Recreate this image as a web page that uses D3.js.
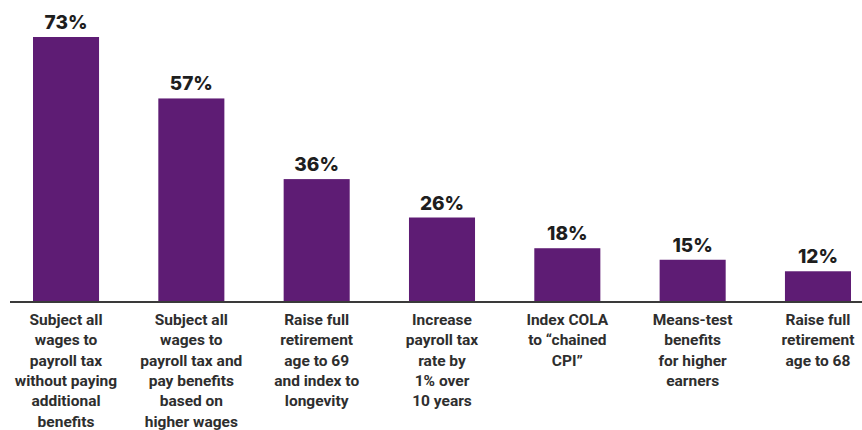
<!DOCTYPE html>
<html>
<head>
<meta charset="utf-8">
<script src="https://cdn.jsdelivr.net/npm/d3@7"></script>
<style>
  body { margin: 0; background: #fff; }
  svg { display: block; }
</style>
</head>
<body>
<svg width="862" height="430"></svg>
<script>
// chart data
const categories = [
  ['Subject all', 'wages to', 'payroll tax', 'without paying', 'additional', 'benefits'],
  ['Subject all', 'wages to', 'payroll tax and', 'pay benefits', 'based on', 'higher wages'],
  ['Raise full', 'retirement', 'age to 69', 'and index to', 'longevity'],
  ['Increase', 'payroll tax', 'rate by', '1% over', '10 years'],
  ['Index COLA', 'to \u201cchained', 'CPI\u201d'],
  ['Means-test', 'benefits', 'for higher', 'earners'],
  ['Raise full', 'retirement', 'age to 68']
];
const values = [73, 57, 36, 26, 18, 15, 12];
const valueLabels = ['73%', '57%', '36%', '26%', '18%', '15%', '12%'];

const svg = d3.select('svg');
const baseline = 302;

const xScale = d3.scaleBand()
  .domain(d3.range(values.length))
  .range([33, 851])
  .paddingInner(0.473)
  .paddingOuter(0);

// bars start a little above zero where the baseline cuts them
const yScale = d3.scaleLinear().domain([4, 73]).range([baseline, 37]);

svg.selectAll('.bar')
  .data(values)
  .enter().append('rect')
  .attr('class', 'bar')
  .attr('x', function (d, i) { return xScale(i); })
  .attr('y', function (d) { return yScale(d); })
  .attr('width', xScale.bandwidth())
  .attr('height', function (d) { return baseline - yScale(d); })
  .attr('fill', '#5e1c74');

svg.selectAll('.value')
  .data(values)
  .enter().append('text')
  .attr('class', 'value')
  .attr('x', function (d, i) { return xScale(i) + xScale.bandwidth() / 2; })
  .attr('y', function (d) { return yScale(d) - 8; })
  .attr('text-anchor', 'middle')
  .attr('font-family', 'Inter, "Open Sans", sans-serif')
  .attr('font-weight', 800)
  .attr('font-size', '19px')
  .attr('fill', '#1e1e1e')
  .text(function (d, i) { return valueLabels[i]; });

// baseline
svg.append('line')
  .attr('x1', 10).attr('x2', 862)
  .attr('y1', baseline).attr('y2', baseline)
  .attr('stroke', '#3a3a3a')
  .attr('stroke-width', 2);

// category labels
const labels = svg.selectAll('.cat')
  .data(categories)
  .enter().append('text')
  .attr('class', 'cat')
  .attr('text-anchor', 'middle')
  .attr('font-family', 'Roboto, sans-serif')
  .attr('font-weight', 700)
  .attr('font-size', '15.5px')
  .attr('fill', '#2e2e2e');

labels.selectAll('tspan')
  .data(function (d, i) { return d.map(function (s) { return { s: s, i: i }; }); })
  .enter().append('tspan')
  .attr('x', function (d) { return xScale(d.i) + xScale.bandwidth() / 2; })
  .attr('y', function (d, j) { return 325 + j * 20.3; })
  .text(function (d) { return d.s; });
</script>
</body>
</html>
